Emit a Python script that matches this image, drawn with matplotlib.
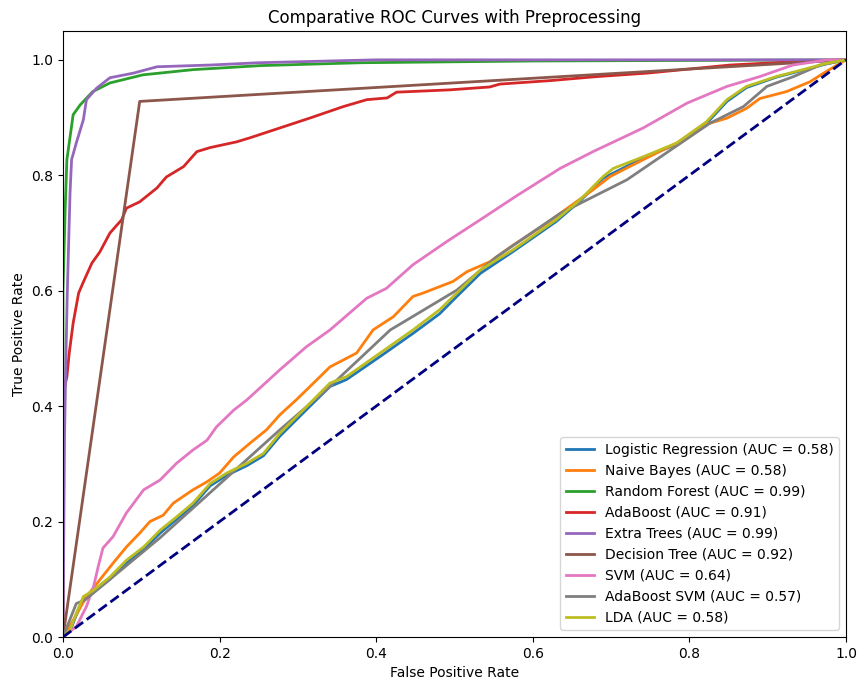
import numpy as np
import matplotlib
matplotlib.use('Agg')
import matplotlib.pyplot as plt

# ROC points (fpr, tpr)
lr_fpr = [0, 0.009, 0.017, 0.026, 0.039, 0.060, 0.081, 0.103, 0.124, 0.145, 0.166, 0.188, 0.209, 0.235, 0.256, 0.277,
          0.311, 0.341, 0.362, 0.405, 0.447, 0.481, 0.503, 0.533, 0.575, 0.630, 0.660, 0.690, 0.741, 0.784, 0.822,
          0.848, 0.873, 0.911, 0.945, 0.975, 1.0]
lr_tpr = [0, 0.010, 0.038, 0.066, 0.078, 0.100, 0.128, 0.152, 0.180, 0.204, 0.228, 0.262, 0.280, 0.297, 0.314, 0.348,
          0.394, 0.434, 0.446, 0.486, 0.526, 0.560, 0.590, 0.630, 0.668, 0.720, 0.755, 0.795, 0.830, 0.854, 0.890,
          0.928, 0.952, 0.970, 0.982, 0.993, 1.0]

nb_fpr = [0, 0.013, 0.030, 0.047, 0.064, 0.081, 0.098, 0.111, 0.128, 0.141, 0.166, 0.184, 0.200, 0.218, 0.239, 0.260,
          0.277, 0.298, 0.320, 0.341, 0.375, 0.396, 0.422, 0.447, 0.460, 0.498, 0.516, 0.545, 0.575, 0.618, 0.635,
          0.677, 0.699, 0.741, 0.784, 0.818, 0.848, 0.873, 0.890, 0.924, 0.954, 0.975, 1.0]
nb_tpr = [0, 0.029, 0.070, 0.099, 0.128, 0.156, 0.180, 0.200, 0.211, 0.232, 0.255, 0.269, 0.284, 0.312, 0.336, 0.359,
          0.385, 0.411, 0.440, 0.468, 0.492, 0.532, 0.555, 0.590, 0.596, 0.616, 0.633, 0.650, 0.679, 0.717, 0.734,
          0.775, 0.798, 0.827, 0.856, 0.887, 0.899, 0.916, 0.933, 0.945, 0.962, 0.980, 1.0]

rf_fpr = [0, 0.0, 0.003, 0.005, 0.013, 0.022, 0.038, 0.060, 0.102, 0.166, 0.252, 0.380, 0.600, 1.0]
rf_tpr = [0, 0.60, 0.75, 0.827, 0.905, 0.922, 0.945, 0.960, 0.974, 0.983, 0.990, 0.995, 0.998, 1.0]

ada_fpr = [0, 0.0, 0.005, 0.008, 0.013, 0.020, 0.026, 0.037, 0.047, 0.060, 0.075, 0.081, 0.098, 0.120, 0.132, 0.154,
           0.171, 0.188, 0.222, 0.239, 0.277, 0.315, 0.358, 0.388, 0.414, 0.426, 0.494, 0.545, 0.558, 0.622, 0.682,
           0.746, 0.852, 0.937, 1.0]
ada_tpr = [0, 0.42, 0.451, 0.492, 0.544, 0.596, 0.615, 0.648, 0.667, 0.700, 0.723, 0.743, 0.754, 0.778, 0.797, 0.815,
           0.841, 0.848, 0.858, 0.865, 0.882, 0.899, 0.919, 0.931, 0.934, 0.944, 0.948, 0.953, 0.958, 0.964, 0.971,
           0.977, 0.991, 0.997, 1.0]

et_fpr = [0, 0.002, 0.004, 0.0055, 0.009, 0.011, 0.017, 0.026, 0.030, 0.043, 0.060, 0.090, 0.120, 0.188, 0.250, 0.400, 1.0]
et_tpr = [0, 0.35, 0.50, 0.596, 0.769, 0.827, 0.856, 0.896, 0.931, 0.951, 0.969, 0.977, 0.988, 0.991, 0.995, 1.0, 1.0]

dt_fpr = [0, 0.098, 1.0]
dt_tpr = [0, 0.928, 1.0]

svm_fpr = [0, 0.017, 0.030, 0.039, 0.045, 0.051, 0.064, 0.081, 0.103, 0.124, 0.145, 0.166, 0.184, 0.196, 0.218, 0.235,
           0.277, 0.311, 0.341, 0.388, 0.413, 0.447, 0.490, 0.533, 0.580, 0.635, 0.677, 0.741, 0.797, 0.848, 0.890,
           0.932, 0.976, 1.0]
svm_tpr = [0, 0.018, 0.053, 0.087, 0.122, 0.154, 0.174, 0.215, 0.255, 0.272, 0.301, 0.324, 0.341, 0.364, 0.393, 0.411,
           0.463, 0.503, 0.532, 0.587, 0.604, 0.645, 0.685, 0.723, 0.765, 0.812, 0.841, 0.882, 0.925, 0.954, 0.971,
           0.991, 1.0, 1.0]

adasvm_fpr = [0, 0.017, 0.028, 0.124, 0.277, 0.341, 0.418, 0.503, 0.554, 0.635, 0.720, 0.826, 0.869, 0.899, 0.933, 0.967, 1.0]
adasvm_tpr = [0, 0.058, 0.064, 0.172, 0.359, 0.434, 0.532, 0.601, 0.659, 0.734, 0.792, 0.890, 0.919, 0.954, 0.971, 0.991, 1.0]

lda_fpr = [0, 0.009, 0.017, 0.026, 0.039, 0.060, 0.081, 0.103, 0.124, 0.145, 0.166, 0.188, 0.209, 0.235, 0.256, 0.277,
           0.311, 0.341, 0.362, 0.405, 0.447, 0.481, 0.503, 0.533, 0.575, 0.630, 0.660, 0.690, 0.703, 0.741, 0.784,
           0.822, 0.848, 0.873, 0.911, 0.945, 0.975, 1.0]
lda_tpr = [0, 0.012, 0.041, 0.070, 0.081, 0.104, 0.133, 0.156, 0.185, 0.208, 0.232, 0.266, 0.284, 0.301, 0.318, 0.353,
           0.399, 0.440, 0.451, 0.492, 0.532, 0.567, 0.596, 0.636, 0.671, 0.723, 0.757, 0.798, 0.812, 0.832, 0.856,
           0.893, 0.931, 0.954, 0.971, 0.983, 0.994, 1.0]

models = ["Logistic Regression", "Naive Bayes", "Random Forest", "AdaBoost", "Extra Trees",
          "Decision Tree", "SVM", "AdaBoost SVM", "LDA"]
aucs = [0.58, 0.58, 0.99, 0.91, 0.99, 0.92, 0.64, 0.57, 0.58]
fprs = [lr_fpr, nb_fpr, rf_fpr, ada_fpr, et_fpr, dt_fpr, svm_fpr, adasvm_fpr, lda_fpr]
tprs = [lr_tpr, nb_tpr, rf_tpr, ada_tpr, et_tpr, dt_tpr, svm_tpr, adasvm_tpr, lda_tpr]

fig = plt.figure(figsize=(8.58, 6.81), dpi=100)
ax = fig.add_axes([0.0734, 0.0646, 0.9126, 0.8899])

for name, auc, f, t in zip(models, aucs, fprs, tprs):
    ax.plot(f, t, lw=2, label=f"{name} (AUC = {auc:.2f})")

ax.plot([0, 1], [0, 1], color='navy', lw=2, linestyle='--')
ax.set_xlim(0.0, 1.0)
ax.set_ylim(0.0, 1.05)
ax.set_xlabel('False Positive Rate')
ax.set_ylabel('True Positive Rate')
ax.set_title('Comparative ROC Curves with Preprocessing')
ax.legend(loc='lower right')

plt.savefig('out.png', dpi=100)
plt.close()
